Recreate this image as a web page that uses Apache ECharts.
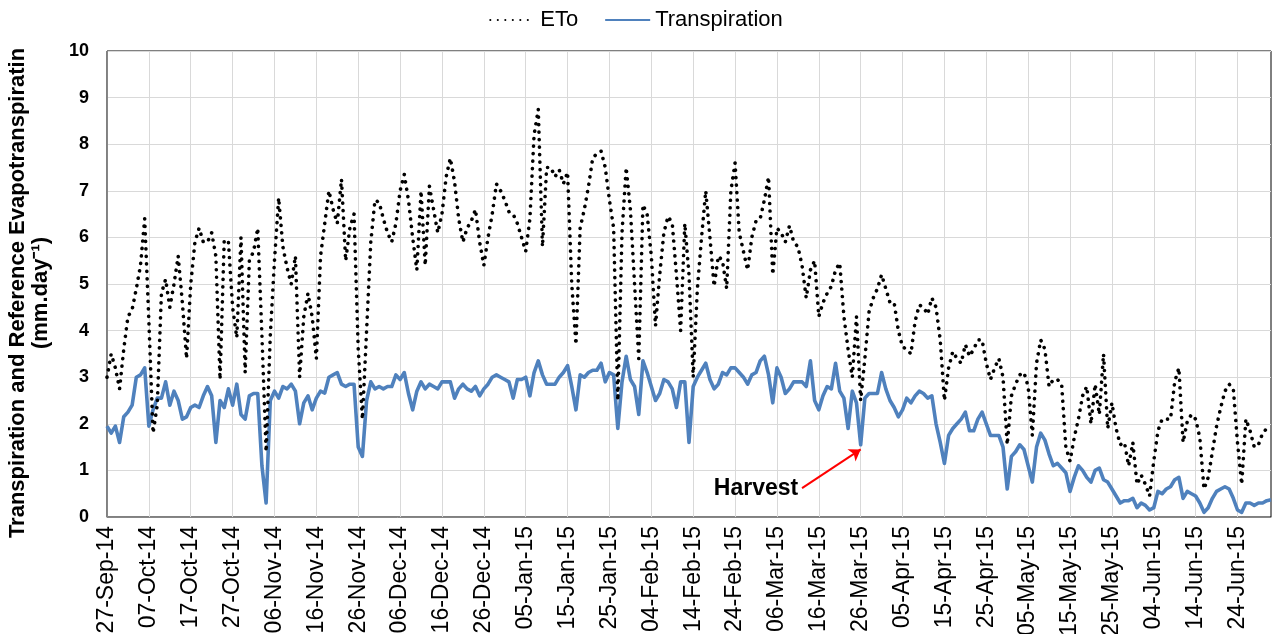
<!DOCTYPE html>
<html>
<head>
<meta charset="utf-8">
<title>Transpiration and ETo</title>
<script src="https://cdn.jsdelivr.net/npm/echarts@6/dist/echarts.min.js"></script>
<style>
  html, body { margin: 0; padding: 0; background: #fff; }
  #chart { width: 1272px; height: 634px; }
</style>
</head>
<body>
<div id="chart"></div>
<script>
/** first day of the record and number of daily values */
const startDate = [2014, 8, 27]
const dayCount = 279

/** reference evapotranspiration, mm/day, one value per day */
const etoValues = [
  3.0, 3.5, 3.2, 2.75, 3.6, 4.3, 4.45, 4.9, 5.4, 6.4,
  4.2, 1.8, 2.4, 4.8, 5.1, 4.5, 5.0, 5.6, 4.6, 3.4,
  5.0, 5.9, 6.2, 5.9, 5.9, 6.1, 5.6, 2.95, 5.95, 5.9,
  4.5, 3.85, 6.0, 3.1, 5.5, 5.7, 6.2, 3.9, 1.4, 3.9,
  5.5, 6.85, 5.8, 5.35, 5.0, 5.6, 3.0, 4.3, 4.8, 4.3,
  3.4, 5.6, 6.3, 7.0, 6.6, 6.3, 7.25, 5.5, 6.2, 6.5,
  3.6, 2.1, 4.0, 5.9, 6.8, 6.75, 6.4, 6.1, 5.9, 6.3,
  7.0, 7.35, 6.8, 6.0, 5.3, 7.0, 5.4, 7.1, 6.6, 6.1,
  6.5, 7.3, 7.7, 7.2, 6.4, 5.9, 6.2, 6.35, 6.6, 5.9,
  5.4, 6.0, 6.5, 7.15, 7.0, 6.8, 6.55, 6.5, 6.3, 6.0,
  5.7, 6.4, 8.2, 8.75, 5.8, 7.5, 7.5, 7.3, 7.45, 7.15,
  7.4, 5.0, 3.7, 6.2, 6.6, 7.1, 7.7, 7.8, 7.85, 7.5,
  6.8, 6.2, 2.5, 6.1, 7.5, 6.6, 5.0, 3.4, 6.7, 6.5,
  5.6, 4.1, 5.2, 6.1, 6.45, 6.3, 5.2, 4.0, 6.3, 5.2,
  3.0, 4.9, 6.0, 7.0, 6.0, 4.95, 5.6, 5.5, 4.9, 7.0,
  7.6, 6.1, 5.7, 5.3, 6.0, 6.35, 6.4, 6.8, 7.3, 5.2,
  6.2, 6.1, 5.9, 6.25, 5.9, 5.8, 5.4, 4.7, 5.3, 5.5,
  4.3, 4.6, 4.8, 4.95, 5.3, 5.45, 4.3, 3.6, 3.0, 4.3,
  2.5, 3.4, 4.4, 4.7, 4.9, 5.2, 4.9, 4.6, 4.6, 4.0,
  3.65, 3.6, 3.5, 4.2, 4.55, 4.5, 4.35, 4.7, 4.5, 3.8,
  2.5, 3.2, 3.55, 3.4, 3.3, 3.7, 3.45, 3.6, 3.8, 3.8,
  3.3, 2.95, 3.2, 3.4, 3.0, 1.55, 2.6, 2.85, 3.05, 3.1,
  2.8, 1.75, 3.3, 3.8, 3.6, 2.8, 2.95, 2.95, 2.85, 1.5,
  1.2, 1.7, 2.1, 2.6, 2.8, 2.0, 2.85, 2.2, 3.5, 1.9,
  2.45, 1.9, 1.55, 1.6, 1.1, 1.6, 0.7, 0.9, 0.7, 0.45,
  1.2, 1.85, 2.1, 2.1, 2.1, 2.9, 3.2, 1.6, 2.05, 2.2,
  2.1, 1.7, 0.6, 0.85, 1.4, 1.95, 2.35, 2.7, 2.85, 2.75,
  1.6, 0.7, 2.1, 1.85, 1.5, 1.55, 1.8, 1.9, 1.9
]

/** crop transpiration, mm/day, one value per day */
const transpirationValues = [
  1.95, 1.8, 1.95, 1.6, 2.15, 2.25, 2.4, 3.0, 3.05, 3.2,
  1.95, 2.3, 2.55, 2.55, 2.9, 2.4, 2.7, 2.5, 2.1, 2.15,
  2.35, 2.4, 2.35, 2.6, 2.8, 2.6, 1.6, 2.5, 2.35, 2.75,
  2.4, 2.85, 2.2, 2.1, 2.6, 2.65, 2.65, 1.1, 0.3, 2.5,
  2.7, 2.55, 2.8, 2.75, 2.85, 2.7, 2.0, 2.45, 2.6, 2.3,
  2.55, 2.7, 2.66, 3.0, 3.05, 3.1, 2.85, 2.8, 2.85, 2.85,
  1.5, 1.3, 2.5, 2.9, 2.75, 2.8, 2.75, 2.8, 2.8, 3.05,
  2.95, 3.1, 2.65, 2.3, 2.7, 2.9, 2.75, 2.85, 2.8, 2.75,
  2.9, 2.9, 2.9, 2.55, 2.75, 2.85, 2.75, 2.7, 2.8, 2.6,
  2.75, 2.85, 3.0, 3.05, 3.0, 2.95, 2.9, 2.55, 2.95, 2.95,
  3.0, 2.6, 3.1, 3.35, 3.05, 2.85, 2.85, 2.85, 3.0, 3.1,
  3.25, 2.8, 2.3, 3.05, 3.0, 3.1, 3.15, 3.15, 3.3, 2.9,
  3.1, 3.05, 1.9, 2.9, 3.45, 2.95, 2.8, 2.2, 3.35, 3.1,
  2.8, 2.5, 2.65, 2.95, 2.9, 2.75, 2.35, 2.9, 2.9, 1.6,
  2.8, 3.0, 3.15, 3.3, 2.95, 2.75, 2.85, 3.1, 3.05, 3.2,
  3.2, 3.1, 3.0, 2.85, 3.05, 3.1, 3.35, 3.45, 3.05, 2.45,
  3.2, 3.0, 2.65, 2.75, 2.9, 2.9, 2.9, 2.8, 3.35, 2.5,
  2.3, 2.6, 2.8, 2.75, 3.3, 2.7, 2.55, 1.9, 2.7, 2.45,
  1.55, 2.55, 2.65, 2.65, 2.65, 3.1, 2.75, 2.5, 2.35, 2.15,
  2.3, 2.55, 2.45, 2.6, 2.7, 2.65, 2.55, 2.6, 2.0, 1.6,
  1.15, 1.75, 1.9, 2.0, 2.1, 2.25, 1.85, 1.85, 2.1, 2.25,
  2.0, 1.75, 1.75, 1.75, 1.5, 0.6, 1.3, 1.4, 1.55, 1.45,
  1.1, 0.75, 1.5, 1.8, 1.65, 1.35, 1.1, 1.15, 1.05, 0.95,
  0.55, 0.85, 1.1, 1.0, 0.85, 0.75, 1.0, 1.05, 0.8, 0.75,
  0.6, 0.45, 0.3, 0.35, 0.35, 0.4, 0.2, 0.3, 0.25, 0.15,
  0.2, 0.55, 0.5, 0.6, 0.65, 0.8, 0.85, 0.4, 0.55, 0.5,
  0.45, 0.3, 0.1, 0.2, 0.4, 0.55, 0.6, 0.65, 0.6, 0.4,
  0.15, 0.1, 0.3, 0.3, 0.25, 0.3, 0.3, 0.35, 0.37
]

/** harvest note: text anchor and arrow (day index, mm/day) */
const harvestText = [155, 0.6]
const harvestArrow = [[166, 0.62], [180, 1.45]]

const monthNames = ['Jan', 'Feb', 'Mar', 'Apr', 'May', 'Jun', 'Jul', 'Aug', 'Sep', 'Oct', 'Nov', 'Dec']

/** build the daily category labels, e.g. 27-Sep-14 */
function buildDates() {
  const list = []
  for (let i = 0; i < dayCount; i++) {
    const d = new Date(Date.UTC(startDate[0], startDate[1], startDate[2] + i))
    const dd = String(d.getUTCDate()).padStart(2, '0')
    const yy = String(d.getUTCFullYear()).slice(2)
    list.push(dd + '-' + monthNames[d.getUTCMonth()] + '-' + yy)
  }
  return list
}

const dates = buildDates()
const fontFamily = '"Liberation Sans", Arial, sans-serif'

const chart = echarts.init(document.getElementById('chart'), null, { renderer: 'canvas' })

const option = {
  animation: false,
  textStyle: { fontFamily: fontFamily, color: '#000' },
  legend: {
    top: 4,
    left: 'center',
    itemWidth: 45,
    itemHeight: 12,
    itemGap: 26,
    itemStyle: { opacity: 0 },
    textStyle: { fontSize: 22, color: '#000', fontFamily: fontFamily },
    data: ['ETo', 'Transpiration'],
  },
  grid: {
    left: 107,
    right: 1,
    top: 51,
    bottom: 117,
    containLabel: false,
    outerBoundsMode: 'none',
    show: true,
    borderColor: '#000',
    borderWidth: 1,
  },
  xAxis: {
    type: 'category',
    data: dates,
    boundaryGap: false,
    axisLine: { lineStyle: { color: '#868686', width: 1 } },
    axisTick: { show: false },
    axisLabel: {
      interval: 9,
      rotate: 90,
      fontSize: 23,
      color: '#000',
      margin: 9,
      fontFamily: fontFamily,
    },
    splitLine: {
      show: true,
      interval: 9,
      lineStyle: { color: '#d9d9d9', width: 1 },
    },
  },
  yAxis: {
    type: 'value',
    min: 0,
    max: 10,
    interval: 1,
    name: 'Transpiration and Reference Evapotranspiratin\n(mm.day\u207B\u00B9)',
    nameLocation: 'middle',
    nameRotate: 90,
    nameGap: 55,
    nameTextStyle: {
      fontSize: 22,
      fontWeight: 'bold',
      color: '#000',
      lineHeight: 23,
      padding: [0, 18, 0, 0],
      fontFamily: fontFamily,
    },
    axisLine: { show: true, lineStyle: { color: '#868686', width: 1 } },
    axisTick: { show: false },
    axisLabel: {
      fontSize: 18,
      fontWeight: 'bold',
      color: '#000',
      margin: 18,
      fontFamily: fontFamily,
    },
    splitLine: { lineStyle: { color: '#d9d9d9', width: 1 } },
  },
  series: [
    {
      name: 'ETo',
      type: 'line',
      data: etoValues,
      showSymbol: false,
      symbol: 'none',
      lineStyle: { color: '#000', width: 3.6, type: [0.1, 7.4], cap: 'round' },
      itemStyle: { color: '#000' },
      z: 3,
    },
    {
      name: 'Transpiration',
      type: 'line',
      data: transpirationValues,
      showSymbol: false,
      symbol: 'none',
      lineStyle: { color: '#4F81BD', width: 3.6, join: 'round' },
      itemStyle: { color: '#4F81BD' },
      z: 2,
      markLine: {
        silent: true,
        symbol: ['none', 'arrow'],
        symbolSize: 11,
        label: { show: false },
        lineStyle: { color: '#ff0000', width: 2, type: 'solid' },
        data: [[{ coord: harvestArrow[0] }, { coord: harvestArrow[1] }]],
      },
      markPoint: {
        silent: true,
        symbol: 'circle',
        symbolSize: 0,
        data: [{
          coord: harvestText,
          label: {
            show: true,
            formatter: 'Harvest',
            fontSize: 23,
            fontWeight: 'bold',
            color: '#000',
            fontFamily: fontFamily,
          },
        }],
      },
    },
  ],
}

chart.setOption(option)
</script>
</body>
</html>
